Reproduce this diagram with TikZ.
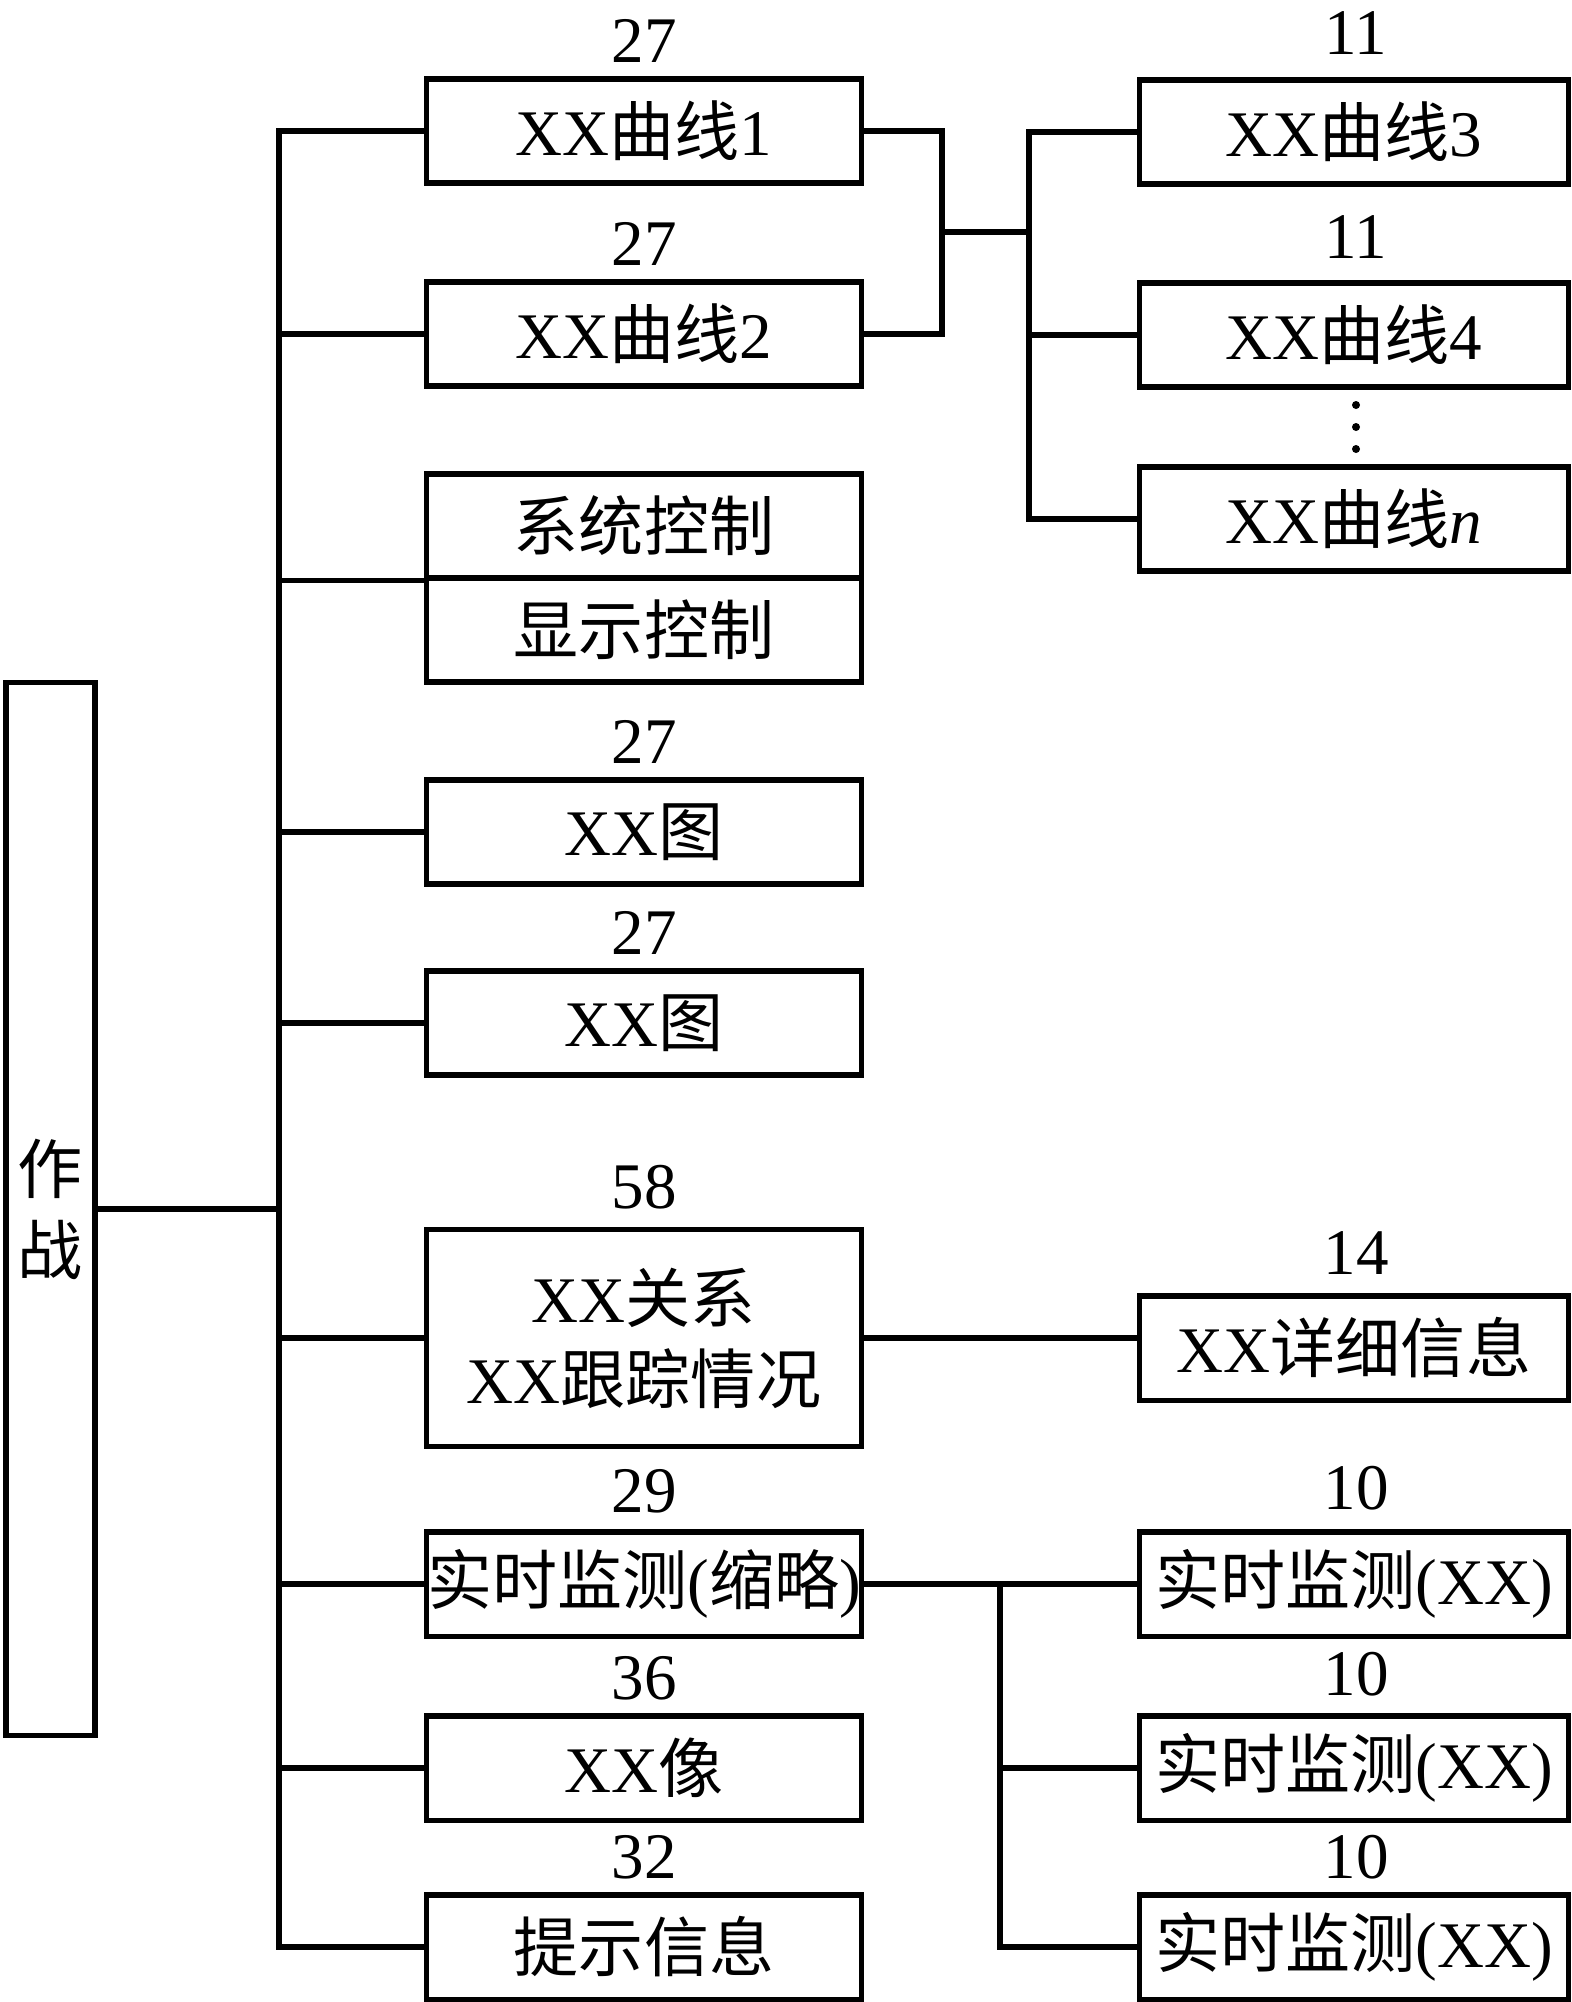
\documentclass[tikz,border=0pt]{standalone}
\usepackage{fontspec}
\setmainfont{Liberation Serif}
\newfontfamily\cjkfont{Noto Sans CJK SC}
\newcommand{\hanzi}[1]{{\cjkfont #1}}
\tikzset{every path/.style={line width=1.45pt}}
\tikzset{
  modbox/.style={draw, rectangle, inner sep=0pt, minimum width=4.34cm, minimum height=1.04cm},
  subbox/.style={draw, rectangle, inner sep=0pt, minimum width=4.29cm, minimum height=1.04cm},
  num/.style={inner sep=0pt, anchor=base}
}

\begin{document}
\begin{tikzpicture}[x=0.01cm, y=-0.01cm, font=\fontsize{18.5pt}{23pt}\selectfont]
\useasboundingbox (0,0) rectangle (1572,2002);

%left
\node[draw, inner sep=0pt, minimum width=0.89cm, minimum height=10.52cm, align=center] (zz) at (50.5,1209) {\hanzi{作}\\\hanzi{战}};

%middle column
\node[modbox] (m1) at (644,131) {XX\hanzi{曲线}1};
\node[modbox] (m2) at (644,334) {XX\hanzi{曲线}2};
\node[modbox] (sys) at (644,526) {\hanzi{系统控制}};
\node[modbox] (disp) at (644,630) {\hanzi{显示控制}};
\node[modbox] (fig1) at (644,832) {XX\hanzi{图}};
\node[modbox] (fig2) at (644,1023) {XX\hanzi{图}};
\node[modbox, minimum height=2.17cm, align=center] (rel) at (644,1338) {XX\hanzi{关系}\\XX\hanzi{跟踪情况}};
\node[modbox] (rt) at (644,1584) {\hanzi{实时监测}(\hanzi{缩略})};
\node[modbox] (img) at (644,1768) {XX\hanzi{像}};
\node[modbox] (tip) at (644,1947) {\hanzi{提示信息}};

\node[num] (n1) at (644,62) {27};
\node[num] (n2) at (644,265) {27};
\node[num] (n3) at (644,763) {27};
\node[num] (n4) at (644,954) {27};
\node[num] (n5) at (644,1208) {58};
\node[num] (n6) at (644,1512) {29};
\node[num] (n7) at (644,1699) {36};
\node[num] (n8) at (644,1878) {32};

%right column
\node[subbox] (c3) at (1354,132) {XX\hanzi{曲线}3};
\node[subbox] (c4) at (1354,335) {XX\hanzi{曲线}4};
\node[subbox] (cn) at (1354,519) {XX\hanzi{曲线}\textit{n}};
\node[subbox] (det) at (1354,1348) {XX\hanzi{详细信息}};
\node[subbox] (t1) at (1354,1584) {\hanzi{实时监测}(XX)};
\node[subbox] (t2) at (1354,1768) {\hanzi{实时监测}(XX)};
\node[subbox] (t3) at (1354,1947) {\hanzi{实时监测}(XX)};

\node[num] (k1) at (1356,54) {11};
\node[num] (k2) at (1356,258) {11};
\node[num] (k3) at (1356,1274) {14};
\node[num] (k4) at (1356,1509) {10};
\node[num] (k5) at (1356,1695) {10};
\node[num] (k6) at (1356,1878) {10};

\foreach \y in {405,427,449}
  \fill (1356,\y) circle[radius=0.04cm];

%trunk
\coordinate (tr) at (279,1209);
\draw (zz.east) -- (tr);
\foreach \b in {m1,m2,fig1,fig2,rel,rt,img,tip}
  \draw (\b.west) -| (tr);
\draw (sys.south west) -| (tr);

%curves
\coordinate (j1) at (942,232);
\coordinate (j2) at (1029,232);
\draw (m1.east) -| (j1);
\draw (m2.east) -| (j1);
\draw (j1) -- (j2);
\foreach \c in {c3,c4,cn}
  \draw (\c.west) -| (j2);

\draw (rel.east) -- (rel.east -| det.west);

%monitor
\coordinate (j3) at (1000,1584);
\draw (rt.east) -- (t1.west);
\foreach \t in {t2,t3}
  \draw (\t.west) -| (j3);
\end{tikzpicture}
\end{document}
